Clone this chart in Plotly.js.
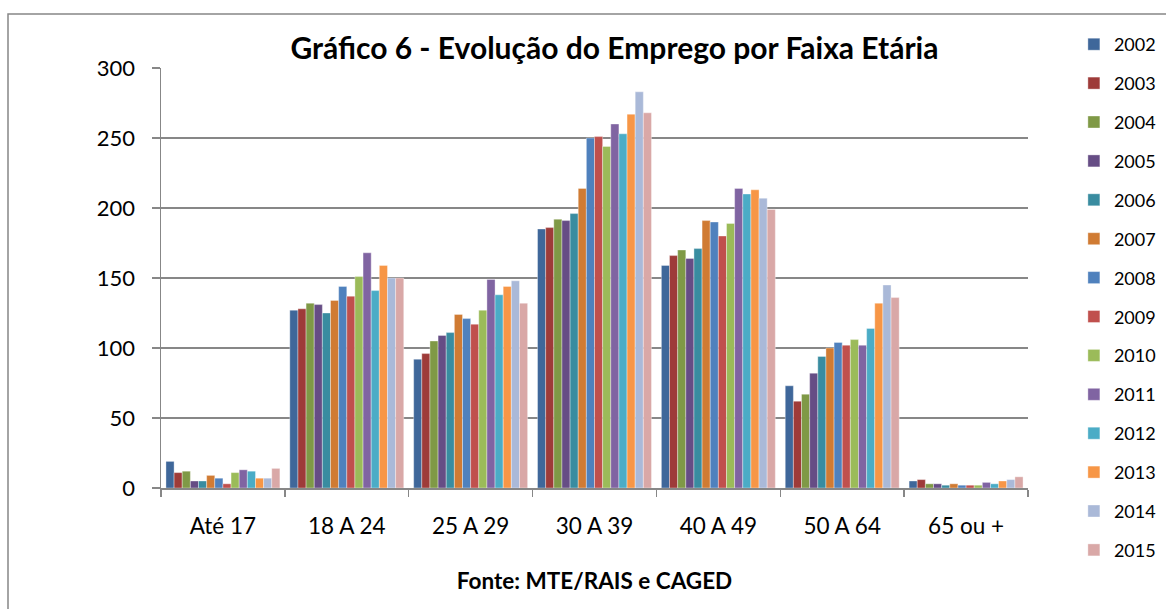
<!DOCTYPE html>
<html>
<head>
<meta charset="utf-8">
<script src="https://cdn.plot.ly/plotly-3.0.1.min.js"></script>
<style>
html,body{margin:0;padding:0;background:#fff;}
#chart{width:1166px;height:609px;}
</style>
</head>
<body>
<div id="chart"></div>
<script>
const categories = ["Até 17", "18 A 24", "25 A 29", "30 A 39", "40 A 49", "50 A 64", "65 ou +"];
const years = ["2002","2003","2004","2005","2006","2007","2008","2009","2010","2011","2012","2013","2014","2015"];
const colors = ["#3F679A","#9E3B39","#7F9946","#664D85","#398CA0","#D07B33","#4F81BD","#C0504D","#9BBB59","#8064A2","#4BACC6","#F79646","#AAB9D8","#D9A8A7"];

const v2002 = [19, 127, 92, 185, 159, 73, 5];
const v2003 = [11, 128, 96, 186, 166, 62, 6];
const v2004 = [12, 132, 105, 192, 170, 67, 3];
const v2005 = [5, 131, 109, 191, 164, 82, 3];
const v2006 = [5, 125, 111, 196, 171, 94, 2];
const v2007 = [9, 134, 124, 214, 191, 100, 3];
const v2008 = [7, 144, 121, 250, 190, 104, 2];
const v2009 = [3, 137, 117, 251, 180, 102, 2];
const v2010 = [11, 151, 127, 244, 189, 106, 2];
const v2011 = [13, 168, 149, 260, 214, 102, 4];
const v2012 = [12, 141, 138, 253, 210, 114, 3];
const v2013 = [7, 159, 144, 267, 213, 132, 5];
const v2014 = [7, 150, 148, 283, 207, 145, 6];
const v2015 = [14, 150, 132, 268, 199, 136, 8];

const series = [v2002, v2003, v2004, v2005, v2006, v2007, v2008, v2009, v2010, v2011, v2012, v2013, v2014, v2015];

const font = "Lato, 'Open Sans', sans-serif";

const traces = series.map((vals, i) => ({
  type: "bar",
  name: years[i],
  x: categories,
  y: vals,
  legendgroup: years[i],
  marker: {color: colors[i], line: {color: "rgba(255,255,255,0.6)", width: 0.6}},
  hoverinfo: "x+y+name"
}));

const layout = {
  width: 1166,
  height: 609,
  margin: {l: 161, r: 138, t: 68, b: 121, autoexpand: false},
  paper_bgcolor: "#fff",
  plot_bgcolor: "#fff",
  barmode: "group",
  bargap: 0.08,
  bargroupgap: 0,
  showlegend: true,
  title: {
    text: "<b>Gráfico 6 - Evolução do Emprego por Faixa Etária</b>",
    font: {family: font, size: 30, color: "#000"},
    x: 0.523, xanchor: "center", xref: "paper",
    y: 0.921, yanchor: "middle", yref: "container"
  },
  xaxis: {
    type: "category",
    tickson: "boundaries",
    ticks: "outside",
    ticklen: 7,
    tickcolor: "#878787",
    tickwidth: 1.5,
    showline: true,
    linecolor: "#878787",
    linewidth: 1.5,
    showgrid: false,
    tickfont: {family: font, size: 22.5, color: "#000"},
    ticklabelstandoff: 17,
    title: {
      text: "<b>Fonte: MTE/RAIS e CAGED</b>",
      font: {family: font, size: 22.5, color: "#000"},
      standoff: 35
    },
    automargin: false
  },
  yaxis: {
    range: [0, 300],
    dtick: 50,
    ticks: "outside",
    ticklen: 8,
    tickcolor: "#878787",
    tickwidth: 1.5,
    showline: true,
    linecolor: "#878787",
    linewidth: 1.5,
    showgrid: true,
    gridcolor: "#878787",
    gridwidth: 1.5,
    zeroline: false,
    tickfont: {family: font, size: 22, color: "#000"},
    ticklabelstandoff: 12,
    automargin: false
  },
  legend: {
    xref: "container", yref: "container",
    x: 0.921, xanchor: "left",
    y: 0.9573, yanchor: "top",
    traceorder: "grouped",
    tracegroupgap: 12.5,
    font: {family: font, size: 18, color: "#000"},
    itemwidth: 30,
    maxheight: 600,
    bgcolor: "rgba(0,0,0,0)"
  },
  shapes: [{
    type: "rect", xref: "paper", yref: "paper",
    x0: (8 - 161) / 867, x1: 1.3,
    y0: -0.6, y1: (488 - 14) / 420,
    line: {color: "#878787", width: 1.5},
    fillcolor: "rgba(0,0,0,0)",
    layer: "below"
  }]
};

Plotly.newPlot("chart", traces, layout, {staticPlot: true});
</script>
</body>
</html>
